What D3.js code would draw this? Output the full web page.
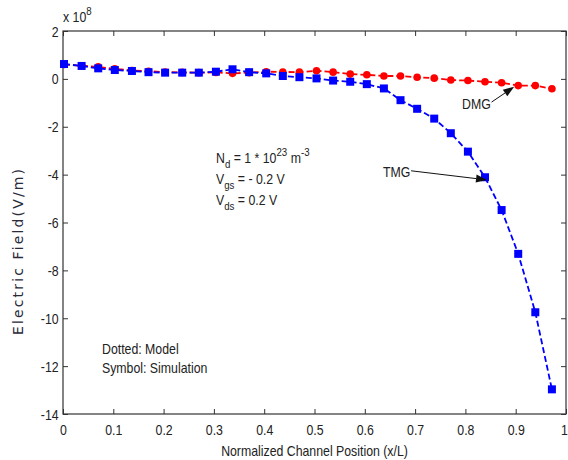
<!DOCTYPE html>
<html>
<head>
<meta charset="utf-8">
<script src="https://cdn.jsdelivr.net/npm/d3@7"></script>
<style>
  body { margin: 0; background: #fff; }
  svg { display: block; }
</style>
</head>
<body>
<svg width="568" height="460"></svg>
<script>
// normalized channel position of the samples
const xPos = [0.002, 0.037, 0.070, 0.103, 0.137, 0.170, 0.203, 0.237, 0.270, 0.304,
              0.337, 0.370, 0.404, 0.437, 0.470, 0.504, 0.537, 0.571, 0.604, 0.638,
              0.671, 0.704, 0.738, 0.771, 0.805, 0.839, 0.872, 0.905, 0.939, 0.972];
// electric field (x 1e8 V/m)
const dmgField = [0.60, 0.55, 0.50, 0.42, 0.35, 0.32, 0.28, 0.27, 0.26, 0.27,
                  0.23, 0.26, 0.30, 0.29, 0.28, 0.34, 0.28, 0.20, 0.17, 0.12,
                  0.12, 0.07, 0.03, -0.05, -0.07, -0.12, -0.16, -0.28, -0.28, -0.41];
const tmgField = [0.62, 0.54, 0.44, 0.37, 0.33, 0.28, 0.26, 0.26, 0.26, 0.30,
                  0.40, 0.28, 0.23, 0.12, 0.07, 0.02, -0.07, -0.12, -0.22, -0.40,
                  -0.89, -1.25, -1.66, -2.27, -3.04, -4.11, -5.48, -7.31, -9.75, -12.97];
const xTicks = [0, 0.1, 0.2, 0.3, 0.4, 0.5, 0.6, 0.7, 0.8, 0.9, 1];
const yTicks = [2, 0, -2, -4, -6, -8, -10, -12, -14];

const svg = d3.select("svg");
const margin = { top: 31, right: 2, bottom: 46, left: 63 };
const width = +svg.attr("width") - margin.left - margin.right;
const height = +svg.attr("height") - margin.top - margin.bottom;
const font = "'Liberation Sans', Arial, sans-serif";

const chart = svg.append("g").attr("transform", `translate(${margin.left},${margin.top})`);

const x = d3.scaleLinear().domain([0, 1]).range([0, width]);
const y = d3.scaleLinear().domain([-14, 2]).range([height, 0]);

// axes, ticks pointing inward
function styleAxis(g) {
  g.select(".domain").remove();
  g.selectAll(".tick line").attr("stroke", "#333");
  g.selectAll(".tick text")
    .attr("fill", "#222")
    .attr("font-family", font)
    .attr("font-size", "14px")
    .attr("transform", "scale(0.88,1)");
}

chart.append("g")
  .attr("transform", `translate(0,${height})`)
  .call(d3.axisBottom(x).tickValues(xTicks).tickFormat(d => String(d))
    .tickSizeInner(-5).tickSizeOuter(0).tickPadding(11))
  .call(styleAxis)
  .selectAll(".tick text").filter(d => d === 1).attr("dx", -2.5);

chart.append("g")
  .call(d3.axisTop(x).tickValues(xTicks).tickFormat("").tickSizeInner(-5).tickSizeOuter(0))
  .call(styleAxis);

chart.append("g")
  .call(d3.axisLeft(y).tickValues(yTicks).tickFormat(d => String(d))
    .tickSizeInner(-5).tickSizeOuter(0).tickPadding(5))
  .call(styleAxis)
  .selectAll(".tick text").attr("dy", "0.36em");

chart.append("g")
  .attr("transform", `translate(${width},0)`)
  .call(d3.axisRight(y).tickValues(yTicks).tickFormat("").tickSizeInner(-5).tickSizeOuter(0))
  .call(styleAxis);

chart.append("rect")
  .attr("width", width)
  .attr("height", height)
  .attr("fill", "none")
  .attr("stroke", "#333")
  .attr("stroke-width", 1.2);

// text helper: slightly condensed Arial-like text with sub/superscripts
function label(px, py, parts, size = 14) {
  const t = svg.append("text")
    .attr("transform", `translate(${px},${py}) scale(0.88,1)`)
    .attr("font-family", font)
    .attr("font-size", size + "px")
    .attr("fill", "#222");
  let shift = 0;
  parts.forEach(p => {
    const [s, kind] = Array.isArray(p) ? p : [p, ""];
    const target = kind === "sub" ? 5 : kind === "sup" ? -7 : 0;
    t.append("tspan")
      .attr("dy", target - shift)
      .attr("font-size", kind ? (size - 3) + "px" : null)
      .text(s);
    shift = target;
  });
  return t;
}

// exponent label
label(63, 22, ["x 10", ["8", "sup"]]);

// axis titles
label(margin.left + width / 2, 456, ["Normalized Channel Position (x/L)"])
  .attr("text-anchor", "middle");

svg.append("text")
  .attr("transform", "translate(23,252) rotate(-90)")
  .attr("text-anchor", "middle")
  .attr("font-family", "'DejaVu Sans', sans-serif")
  .attr("font-size", "14px")
  .attr("textLength", 166)
  .attr("lengthAdjust", "spacing")
  .attr("fill", "#2a2a3a")
  .text("Electric Field(V/m)");

// series
const dmg = xPos.map((d, i) => ({ x: d, v: dmgField[i] }));
const tmg = xPos.map((d, i) => ({ x: d, v: tmgField[i] }));

const line = d3.line().x(d => x(d.x)).y(d => y(d.v));

chart.append("path")
  .datum(dmg)
  .attr("fill", "none")
  .attr("stroke", "#ff0000")
  .attr("stroke-width", 1.8)
  .attr("stroke-dasharray", "6,3")
  .attr("d", line);

chart.selectAll(".dmg")
  .data(dmg)
  .join("circle")
  .attr("class", "dmg")
  .attr("cx", d => x(d.x))
  .attr("cy", d => y(d.v))
  .attr("r", 3.8)
  .attr("fill", "#ff0000");

chart.append("path")
  .datum(tmg)
  .attr("fill", "none")
  .attr("stroke", "#0000ff")
  .attr("stroke-width", 1.8)
  .attr("stroke-dasharray", "6,3")
  .attr("d", line);

chart.selectAll(".tmg")
  .data(tmg)
  .join("rect")
  .attr("class", "tmg")
  .attr("x", d => x(d.x) - 4)
  .attr("y", d => y(d.v) - 4)
  .attr("width", 8)
  .attr("height", 8)
  .attr("fill", "#0000ff");

// annotation arrows (data coordinates)
function arrow(from, to) {
  const x1 = x(from[0]), y1 = y(from[1]), x2 = x(to[0]), y2 = y(to[1]);
  const a = Math.atan2(y2 - y1, x2 - x1);
  const len = 11, w = 4;
  const bx = x2 - len * Math.cos(a), by = y2 - len * Math.sin(a);
  chart.append("line")
    .attr("x1", x1).attr("y1", y1).attr("x2", bx).attr("y2", by)
    .attr("stroke", "#111").attr("stroke-width", 1);
  chart.append("path")
    .attr("d", `M${x2},${y2}L${bx - w * Math.sin(a)},${by + w * Math.cos(a)}L${bx + w * Math.sin(a)},${by - w * Math.cos(a)}Z`)
    .attr("fill", "#111");
}
arrow([0.852, -0.97], [0.897, -0.33]);
arrow([0.692, -3.84], [0.843, -4.22]);

label(462, 109, ["DMG"]);
label(383, 177, ["TMG"]);

// device parameters
label(216, 163, ["N", ["d", "sub"], " = 1 * 10", ["23", "sup"], " m", ["-3", "sup"]]);
label(216, 184, ["V", ["gs", "sub"], " = - 0.2 V"]);
label(216, 205, ["V", ["ds", "sub"], " = 0.2 V"]);

label(102, 354, ["Dotted: Model"]);
label(102, 373, ["Symbol: Simulation"]);
</script>
</body>
</html>
